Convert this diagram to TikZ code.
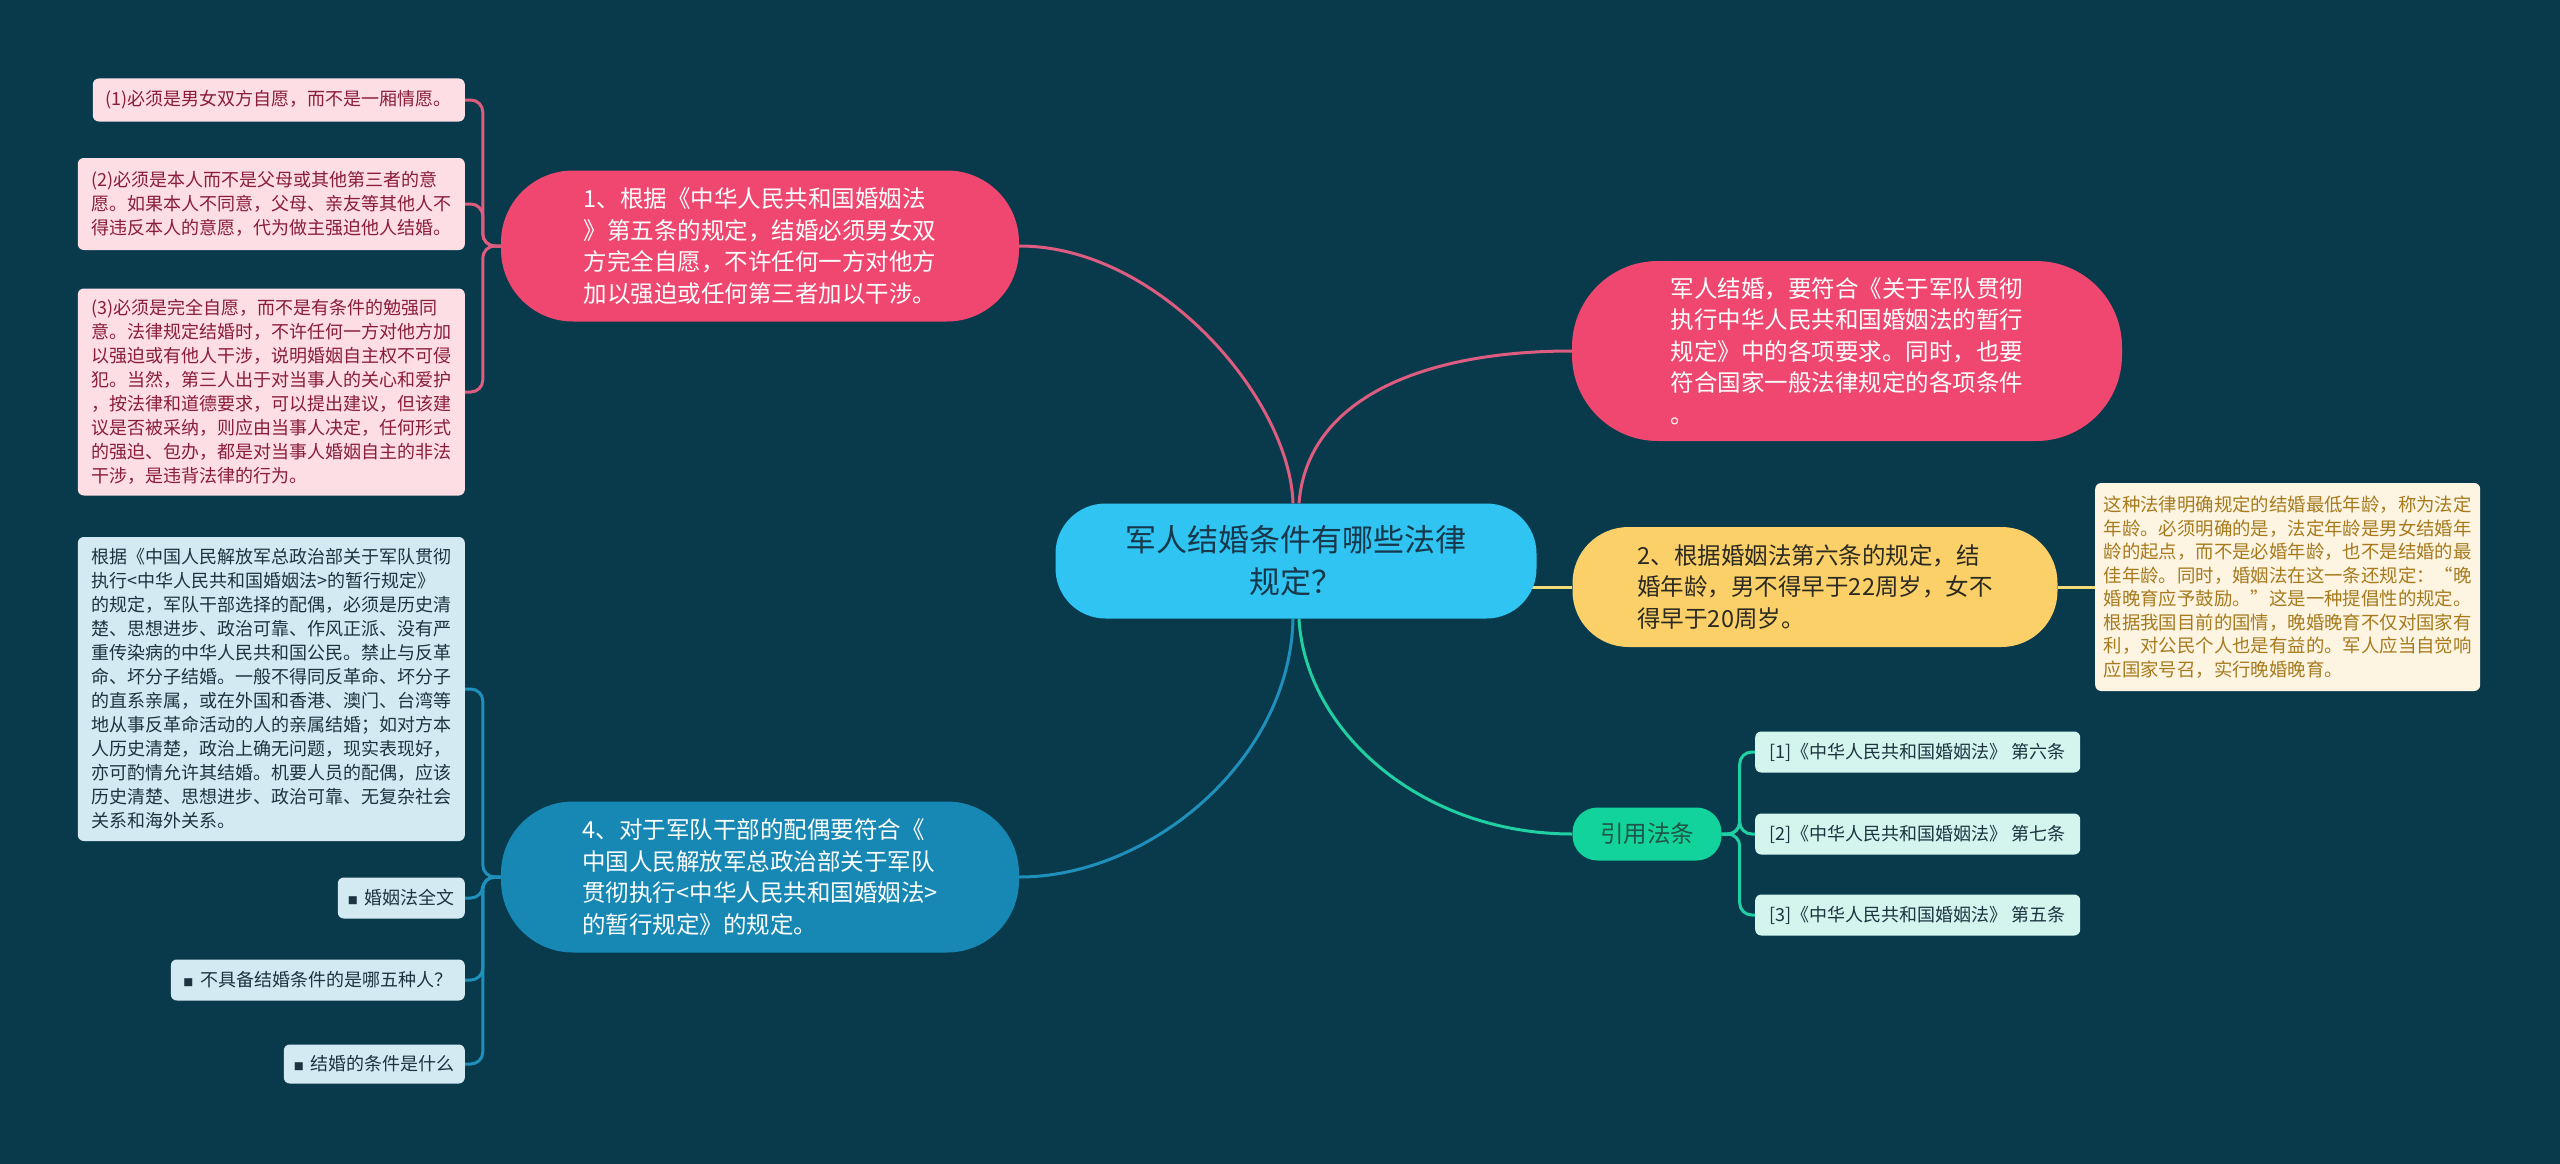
\documentclass[tikz,border=0pt]{standalone}
\usepackage{fontspec}
\newfontfamily\cjk{Noto Sans CJK SC}
\newcommand\fleaf{\cjk\fontsize{18}{24}\selectfont}
\newcommand\fyleaf{\cjk\fontsize{18.4}{23.5}\selectfont}
\newcommand\fmain{\cjk\fontsize{23.5}{31.5}\selectfont}
\newcommand\fcenter{\cjk\fontsize{31}{42}\selectfont}
\newcommand\fsq{\fontsize{10}{10}\selectfont}
\pgfdeclarelayer{background}
\pgfsetlayers{background,main}
\definecolor{bgcol}{HTML}{093A4C}
\definecolor{pinkmain}{HTML}{EF476F}
\definecolor{pinkline}{HTML}{DD5C80}
\definecolor{pinkleaf}{HTML}{FDDEE4}
\definecolor{pinktext}{HTML}{8A1C3C}
\definecolor{centrecol}{HTML}{30C4F3}
\definecolor{centretext}{HTML}{17384A}
\definecolor{bluemain}{HTML}{1788B4}
\definecolor{blueline}{HTML}{1F8FBB}
\definecolor{blueleaf}{HTML}{D4EAF3}
\definecolor{darktext}{HTML}{1D3440}
\definecolor{yellowmain}{HTML}{FCD068}
\definecolor{yellowline}{HTML}{F3DB7A}
\definecolor{yellowleaf}{HTML}{FDF5E2}
\definecolor{yellowtext}{HTML}{A77A1E}
\definecolor{yellowdark}{HTML}{2B2A20}
\definecolor{greenmain}{HTML}{12D39C}
\definecolor{greenline}{HTML}{20CFA2}
\definecolor{greenleaf}{HTML}{D3F5EE}
\definecolor{greentext}{HTML}{1E5546}
\begin{document}
\begin{tikzpicture}[x=1pt,y=-1pt,
  conn/.style={line width=3pt},
  pinkconn/.style={conn,draw=pinkline},
  blueconn/.style={conn,draw=blueline},
  yellowconn/.style={conn,draw=yellowline},
  greenconn/.style={conn,draw=greenline},
  boxbase/.style={rectangle,inner sep=0pt,align=left},
  centrebox/.style={boxbase,align=center,fill=centrecol,text=centretext,font=\fcenter,rounded corners=50pt},
  pinkbox/.style={boxbase,fill=pinkmain,text=white,font=\fmain},
  bluebox/.style={boxbase,fill=bluemain,text=white,font=\fmain},
  yellowbox/.style={boxbase,fill=yellowmain,text=yellowdark,font=\fmain,rounded corners=56pt},
  greenbox/.style={boxbase,align=center,fill=greenmain,text=greentext,font=\fmain,rounded corners=25pt},
  pinkleafbox/.style={boxbase,fill=pinkleaf,text=pinktext,font=\fleaf,rounded corners=6pt},
  blueleafbox/.style={boxbase,fill=blueleaf,text=darktext,font=\fleaf,rounded corners=6pt},
  yellowleafbox/.style={boxbase,fill=yellowleaf,text=yellowtext,font=\fyleaf,rounded corners=6pt},
  citebox/.style={boxbase,fill=greenleaf,text=darktext,font=\fleaf,rounded corners=6pt},
  spine/.style={rounded corners=12pt}
]
\useasboundingbox (0,0) rectangle (2560,1164);
\begin{pgfonlayer}{background}
\fill[bgcol] (0,0) rectangle (2560,1164);
\end{pgfonlayer}

% central node
\node[centrebox,minimum width=481pt,minimum height=115pt] (c) at (1296,561)
  {军人结婚条件有哪些法律\\规定？};

% first level
\node[pinkbox,rounded corners=72pt,minimum width=518pt,minimum height=151pt] (n1) at (760,246)
  {1、根据《中华人民共和国婚姻法\\》第五条的规定，结婚必须男女双\\方完全自愿，不许任何一方对他方\\加以强迫或任何第三者加以干涉。};
\node[bluebox,rounded corners=72pt,minimum width=518pt,minimum height=151pt] (n4) at (760,877)
  {4、对于军队干部的配偶要符合《\\中国人民解放军总政治部关于军队\\贯彻执行<中华人民共和国婚姻法>\\的暂行规定》的规定。};
\node[pinkbox,rounded corners=86pt,minimum width=550pt,minimum height=180pt] (r1) at (1847,351)
  {军人结婚，要符合《关于军队贯彻\\执行中华人民共和国婚姻法的暂行\\规定》中的各项要求。同时，也要\\符合国家一般法律规定的各项条件\\。};
\node[yellowbox,minimum width=485pt,minimum height=120pt] (y2) at (1815,587)
  {2、根据婚姻法第六条的规定，结\\婚年龄，男不得早于22周岁，女不\\得早于20周岁。};
\node[greenbox,minimum width=149pt,minimum height=53pt] (cite) at (1647,834) {引用法条};

% leaves of 1
\node[pinkleafbox,anchor=east,minimum width=372pt,minimum height=43pt] (p1) at (465,100)
  {(1)必须是男女双方自愿，而不是一厢情愿。};
\node[pinkleafbox,anchor=east,minimum width=387pt,minimum height=92pt] (p2) at (465,204)
  {(2)必须是本人而不是父母或其他第三者的意\\愿。如果本人不同意，父母、亲友等其他人不\\得违反本人的意愿，代为做主强迫他人结婚。};
\node[pinkleafbox,anchor=east,minimum width=387pt,minimum height=207pt] (p3) at (465,392)
  {(3)必须是完全自愿，而不是有条件的勉强同\\意。法律规定结婚时，不许任何一方对他方加\\以强迫或有他人干涉，说明婚姻自主权不可侵\\犯。当然，第三人出于对当事人的关心和爱护\\，按法律和道德要求，可以提出建议，但该建\\议是否被采纳，则应由当事人决定，任何形式\\的强迫、包办，都是对当事人婚姻自主的非法\\干涉，是违背法律的行为。};

% leaves of 4
\node[blueleafbox,anchor=east,minimum width=387pt,minimum height=304pt] (b1) at (465,689)
  {根据《中国人民解放军总政治部关于军队贯彻\\执行<中华人民共和国婚姻法>的暂行规定》\\的规定，军队干部选择的配偶，必须是历史清\\楚、思想进步、政治可靠、作风正派、没有严\\重传染病的中华人民共和国公民。禁止与反革\\命、坏分子结婚。一般不得同反革命、坏分子\\的直系亲属，或在外国和香港、澳门、台湾等\\地从事反革命活动的人的亲属结婚；如对方本\\人历史清楚，政治上确无问题，现实表现好，\\亦可酌情允许其结婚。机要人员的配偶，应该\\历史清楚、思想进步、政治可靠、无复杂社会\\关系和海外关系。};
\node[blueleafbox,anchor=east,minimum width=127pt,minimum height=41pt] (b2) at (465,898)
  {{\fsq ■}\, 婚姻法全文};
\node[blueleafbox,anchor=east,minimum width=294pt,minimum height=41pt] (b3) at (465,980)
  {{\fsq ■}\, 不具备结婚条件的是哪五种人？};
\node[blueleafbox,anchor=east,minimum width=181pt,minimum height=39pt] (b4) at (465,1064)
  {{\fsq ■}\, 结婚的条件是什么};

% leaf of 2
\node[yellowleafbox,anchor=west,minimum width=385pt,minimum height=208pt] (yl) at (2095,587)
  {这种法律明确规定的结婚最低年龄，称为法定\\年龄。必须明确的是，法定年龄是男女结婚年\\龄的起点，而不是必婚年龄，也不是结婚的最\\佳年龄。同时，婚姻法在这一条还规定：“晚\\婚晚育应予鼓励。”这是一种提倡性的规定。\\根据我国目前的国情，晚婚晚育不仅对国家有\\利，对公民个人也是有益的。军人应当自觉响\\应国家号召，实行晚婚晚育。};

% citations
\node[citebox,anchor=west,minimum width=325pt,minimum height=41pt] (c1) at (1755,752)
  {[1]《中华人民共和国婚姻法》 第六条};
\node[citebox,anchor=west,minimum width=325pt,minimum height=41pt] (c2) at (1755,834)
  {[2]《中华人民共和国婚姻法》 第七条};
\node[citebox,anchor=west,minimum width=325pt,minimum height=41pt] (c3) at (1755,915)
  {[3]《中华人民共和国婚姻法》 第五条};

\begin{pgfonlayer}{background}
% main connectors
\draw[pinkconn] ([xshift=-3pt]c.north) .. controls (1290,400) and (1160,246) .. (n1.east);
\draw[pinkconn] ([xshift=3pt]c.north) .. controls (1307,400) and (1420,351) .. (r1.west);
\draw[blueconn] ([xshift=-3pt]c.south) .. controls (1290,760) and (1150,877) .. (n4.east);
\draw[greenconn] ([xshift=3pt]c.south) .. controls (1305,730) and (1420,834) .. (cite.west);
\draw[yellowconn] (c.center |- y2.west) -- (y2.west);
\draw[yellowconn] (y2.east) -- (yl.west);
% leaf connectors
\draw[pinkconn,spine] (n1.west) -- ++(-18,0) |- (p1.east);
\draw[pinkconn,spine] (n1.west) -- ++(-18,0) |- (p2.east);
\draw[pinkconn,spine] (n1.west) -- ++(-18,0) |- (p3.east);
\draw[blueconn,spine] (n4.west) -- ++(-18,0) |- (b1.east);
\draw[blueconn,spine] (n4.west) -- ++(-18,0) |- (b2.east);
\draw[blueconn,spine] (n4.west) -- ++(-18,0) |- (b3.east);
\draw[blueconn,spine] (n4.west) -- ++(-18,0) |- (b4.east);
\draw[greenconn,spine] (cite.east) -- ++(18,0) |- (c1.west);
\draw[greenconn,spine] (cite.east) -- ++(18,0) |- (c2.west);
\draw[greenconn,spine] (cite.east) -- ++(18,0) |- (c3.west);
\end{pgfonlayer}
\end{tikzpicture}
\end{document}
